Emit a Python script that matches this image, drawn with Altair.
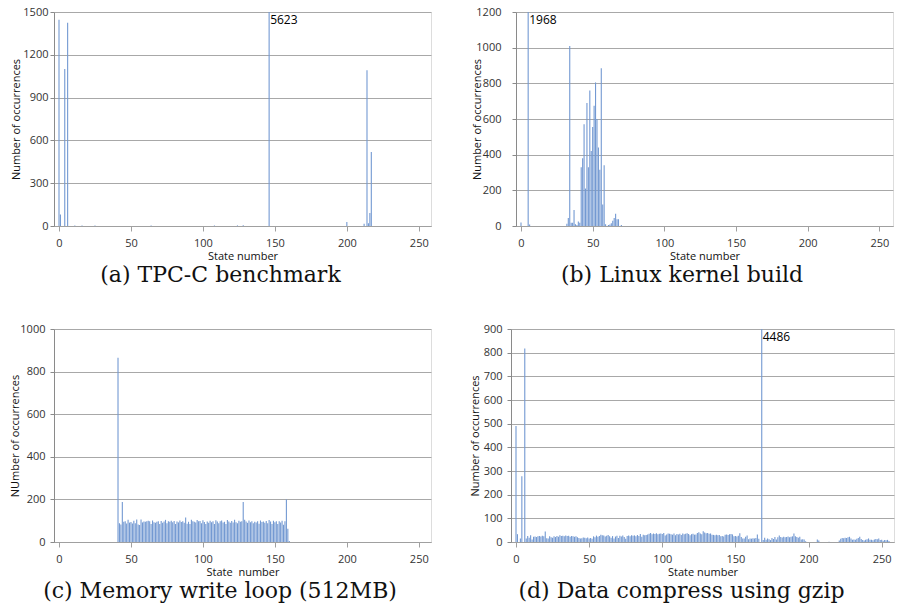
import altair as alt
import pandas as pd

# ---------------- data ----------------
# (a) TPC-C benchmark
STATE_A = [0, 1, 4, 6, 11, 16, 25, 64, 108, 124, 128, 146, 200, 212, 214, 215, 216, 217]
COUNT_A = [1445, 80, 1100, 1425, 4, 4, 4, 3, 4, 4, 5, 5623, 28, 16, 1091, 20, 91, 519]

# (b) Linux kernel build
STATE_B = [0, 5, 6, 32, 33, 34, 35, 36, 37, 38, 39, 40, 41, 42, 43, 44, 45, 46, 47, 48, 49,
           50, 51, 52, 53, 54, 55, 56, 57, 58, 59, 61, 62, 63, 64, 65, 66, 67, 68, 70]
COUNT_B = [20, 1968, 8, 12, 45, 1010, 18, 18, 90, 10, 5, 25, 18, 330, 380, 570, 210, 690, 330, 760, 420,
           555, 675, 805, 600, 440, 315, 885, 120, 340, 10, 5, 8, 15, 30, 45, 68, 38, 38, 5]

# (c) Memory write loop (512MB): states 41..160
STATE_C = list(range(41, 161))
COUNT_C = [865, 88, 82, 188, 95, 98, 87, 104, 91, 94, 87, 100, 88, 106, 82, 80, 106, 92, 96, 95,
           97, 100, 98, 84, 101, 93, 90, 95, 98, 84, 99, 90, 96, 104, 88, 97, 95, 100, 93, 99,
           85, 96, 92, 101, 94, 97, 90, 115, 86, 95, 84, 104, 98, 95, 91, 103, 97, 99, 88, 102,
           94, 85, 96, 90, 100, 93, 98, 85, 102, 96, 88, 97, 101, 91, 95, 84, 103, 96, 90, 99,
           92, 104, 93, 88, 100, 95, 97, 188, 104, 96, 90, 101, 93, 98, 88, 95, 92, 97, 86, 101,
           94, 96, 90, 99, 88, 103, 96, 84, 100, 93, 98, 85, 97, 92, 100, 81, 98, 200, 62, 5]

# (d) Data compress using gzip: states 0..255
STATE_D = list(range(256))
COUNT_D = [490, 33, 0, 15, 278, 0, 818, 15, 25, 18, 28, 11, 22, 23, 21, 24,
           25, 23, 26, 24, 44, 16, 15, 24, 20, 18, 24, 21, 25, 22, 28, 25,
           26, 24, 27, 25, 26, 22, 25, 24, 22, 24, 20, 17, 15, 16, 19, 18,
           16, 19, 15, 17, 14, 24, 20, 27, 22, 25, 31, 28, 27, 23, 26, 30,
           24, 18, 25, 15, 23, 26, 17, 26, 23, 27, 21, 14, 25, 27, 24, 29,
           26, 28, 24, 30, 25, 34, 22, 31, 28, 30, 32, 35, 38, 33, 36, 34,
           37, 33, 35, 36, 34, 38, 27, 32, 36, 35, 33, 31, 36, 29, 34, 32,
           35, 30, 36, 33, 35, 37, 34, 28, 33, 35, 31, 32, 38, 41, 36, 33,
           45, 40, 37, 38, 35, 36, 31, 30, 29, 31, 28, 30, 24, 25, 23, 31,
           32, 30, 33, 34, 32, 24, 25, 23, 26, 37, 21, 15, 15, 22, 27, 12,
           15, 14, 16, 15, 17, 32, 14, 0, 4486, 8, 18, 10, 15, 12, 8, 17,
           13, 21, 11, 20, 27, 21, 19, 22, 20, 21, 23, 20, 22, 24, 36, 24,
           21, 18, 22, 11, 12, 11, 3, 0, 0, 0, 0, 0, 0, 0, 11, 6,
           0, 0, 0, 0, 0, 0, 1, 0, 0, 0, 0, 0, 0, 6, 14, 17,
           16, 18, 17, 20, 22, 15, 10, 11, 9, 14, 17, 22, 13, 8, 6, 10,
           12, 15, 9, 10, 7, 11, 13, 12, 15, 8, 9, 5, 8, 7, 9, 4]

X_TICKS = [0, 50, 100, 150, 200, 250]
Y_TICKS_A = [0, 300, 600, 900, 1200, 1500]
Y_TICKS_B = [0, 200, 400, 600, 800, 1000, 1200]
Y_TICKS_C = [0, 200, 400, 600, 800, 1000]
Y_TICKS_D = [0, 100, 200, 300, 400, 500, 600, 700, 800, 900]

CAPTIONS = ["(a) TPC-C benchmark", "(b) Linux kernel build",
            "(c) Memory write loop (512MB)", "(d) Data compress using gzip"]
Y_TITLES = ["Number of occurrences", "Number of occurrences",
            "NUmber of occurrences", "Number of occurrences"]
X_TITLES = ["State number", "State number", "State\u00a0 number", "State number"]

# off-scale peaks annotated with their true count
PEAK_STATE = [146, 5, None, 168]
PEAK_TEXT = ["5623", "1968", None, "4486"]

FONT = "Open Sans"
CAP_FONT = "DejaVu Serif"
BAR = "#7399d2"


def panel(states, counts, yticks, xmax, width, height, ytitle, xtitle, caption,
          peak_state, peak_text, lab_pad, extent):
    df = pd.DataFrame({"state": states, "count": counts})
    df = df[df["count"] > 0]
    ymax = yticks[-1]
    xs = alt.Scale(domain=[0, xmax], nice=False, zero=False)
    ys = alt.Scale(domain=[0, ymax], nice=False)
    xaxis = alt.Axis(values=X_TICKS, title=xtitle, grid=False, labelFlush=False, format="d",
                     domainColor="#a0a0a0", tickColor="#a0a0a0", tickSize=5,
                     labelPadding=6, labelFont=FONT, labelFontSize=11, labelColor="#333333",
                     titleFont=FONT, titleFontSize=11, titleFontWeight="normal",
                     titleColor="#111111", titlePadding=2, labelOverlap=False)
    yaxis = alt.Axis(values=yticks, title=ytitle, grid=True, gridColor="#a8a8a8", format="d",
                     domainColor="#8a8a8a", tickColor="#8a8a8a", tickSize=4,
                     labelPadding=lab_pad, labelFont=FONT, labelFontSize=11,
                     labelColor="#333333", titleFont=FONT, titleFontSize=11,
                     titleFontWeight="normal", titleColor="#111111", titlePadding=4,
                     minExtent=extent, maxExtent=extent, labelFlush=False,
                     labelOverlap=False)
    bars = alt.Chart(df).mark_bar(size=1.1, color=BAR, clip=True).encode(
        x=alt.X("state:Q", scale=xs, axis=xaxis),
        y=alt.Y("count:Q", scale=ys, axis=yaxis),
    )
    layers = [bars]
    if peak_state is not None:
        tdf = pd.DataFrame({"state": [peak_state], "count": [ymax], "label": [peak_text]})
        txt = alt.Chart(tdf).mark_text(align="left", baseline="top", dx=1, dy=3,
                                       font=FONT, fontSize=12, color="#000000").encode(
            x=alt.X("state:Q", scale=xs, axis=xaxis),
            y=alt.Y("count:Q", scale=ys, axis=yaxis),
            text="label:N")
        layers.append(txt)
    return alt.layer(*layers).properties(
        width=width, height=height,
        title=alt.TitleParams(caption, orient="bottom", anchor="middle", frame="bounds",
                              font=CAP_FONT, fontSize=22, fontWeight="normal",
                              color="#111111", offset=4),
    )


pa = panel(STATE_A, COUNT_A, Y_TICKS_A, 255, 377, 214, Y_TITLES[0], X_TITLES[0], CAPTIONS[0],
           PEAK_STATE[0], PEAK_TEXT[0], 2, 29)
pb = panel(STATE_B, COUNT_B, Y_TICKS_B, 256, 377, 214, Y_TITLES[1], X_TITLES[1], CAPTIONS[1],
           PEAK_STATE[1], PEAK_TEXT[1], 11, 30)
pc = panel(STATE_C, COUNT_C, Y_TICKS_C, 255, 377, 213, Y_TITLES[2], X_TITLES[2], CAPTIONS[2],
           PEAK_STATE[2], PEAK_TEXT[2], 5, 30)
pd_ = panel(STATE_D, COUNT_D, Y_TICKS_D, 255, 383, 213, Y_TITLES[3], X_TITLES[3], CAPTIONS[3],
            PEAK_STATE[3], PEAK_TEXT[3], 5, 27)

row1 = alt.hconcat(pa, pb, spacing=85, bounds="flush")
row2 = alt.hconcat(pc, pd_, spacing=80, bounds="flush")
chart = alt.vconcat(row1, row2, spacing=35).properties(
    padding={"left": 0, "top": -3, "right": 0, "bottom": 0}
).configure_view(strokeWidth=0).configure(background="white")

chart.save("out.html", embed_options={"renderer": "svg", "actions": False})
